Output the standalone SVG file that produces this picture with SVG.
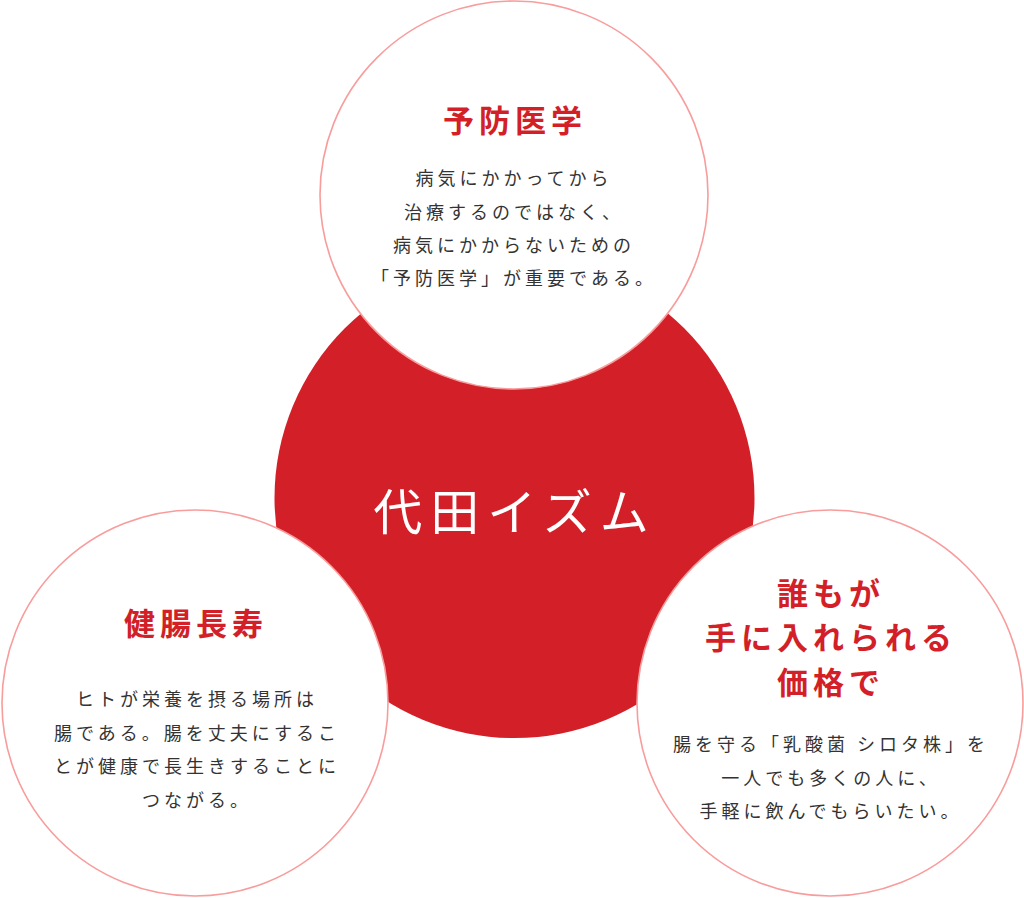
<svg xmlns="http://www.w3.org/2000/svg" width="1024" height="898" viewBox="0 0 1024 898">
<style>
.bubble{fill:#ffffff;stroke:#f89c9c;stroke-width:1.6}
.hub{fill:#d31f27}
.title{font-family:"Noto Sans CJK JP","Noto Sans",sans-serif;font-weight:bold;font-size:31px;fill:#d31f27;text-anchor:middle;letter-spacing:5px}
.body{font-family:"Noto Sans CJK JP","Noto Sans",sans-serif;font-size:18px;fill:#333333;text-anchor:middle;letter-spacing:4px}
.center{font-family:"Noto Sans CJK JP","Noto Sans",sans-serif;font-size:49px;fill:#ffffff;text-anchor:middle;letter-spacing:8px}
</style>
<rect width="1024" height="898" fill="#ffffff"/>
<g id="connectors"></g>
<g id="hub">
<circle class="hub" cx="514.5" cy="498" r="240"/>
<text class="center" x="515" y="530">代田イズム</text>
</g>
<g id="node-top">
<circle class="bubble" cx="514" cy="195" r="194"/>
<text class="title" x="515" y="132">予防医学</text>
<text class="body" x="514" y="185">病気にかかってから</text>
<text class="body" x="514" y="219">治療するのではなく、</text>
<text class="body" x="514" y="252">病気にかからないための</text>
<text class="body" x="514" y="285">「予防医学」が重要である。</text>
</g>
<g id="node-left">
<circle class="bubble" cx="195" cy="703" r="193"/>
<text class="title" x="196" y="635">健腸長寿</text>
<text class="body" x="197" y="706">ヒトが栄養を摂る場所は</text>
<text class="body" x="197" y="740">腸である。腸を丈夫にするこ</text>
<text class="body" x="197" y="773">とが健康で長生きすることに</text>
<text class="body" x="197" y="807">つながる。</text>
</g>
<g id="node-right">
<circle class="bubble" cx="830" cy="703" r="193"/>
<text class="title" x="831" y="605">誰もが</text>
<text class="title" x="831" y="649">手に入れられる</text>
<text class="title" x="831" y="694">価格で</text>
<text class="body" x="831" y="751">腸を守る「乳酸菌 シロタ株」を</text>
<text class="body" x="831" y="785">一人でも多くの人に、</text>
<text class="body" x="831" y="818">手軽に飲んでもらいたい。</text>
</g>
</svg>
